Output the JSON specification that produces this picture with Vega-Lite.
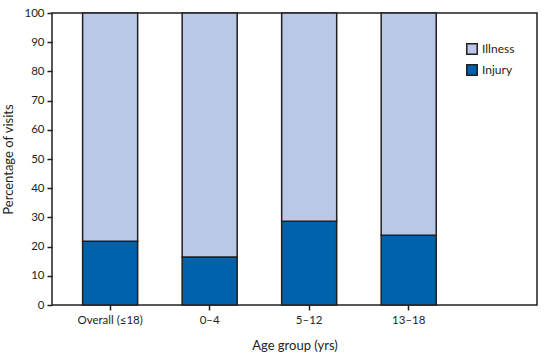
{
  "$schema": "https://vega.github.io/schema/vega-lite/v6.json",
  "width": 485,
  "height": 292,
  "autosize": {"type": "none"},
  "padding": {"left": 52, "top": 13, "right": 9, "bottom": 54},
  "background": "white",
  "config": {
    "font": "Lato",
    "view": {"stroke": "#231f20", "strokeWidth": 1.5},
    "axis": {
      "labelFont": "Lato",
      "titleFont": "Lato",
      "labelFontSize": 11.5,
      "titleFontSize": 13,
      "titleFontWeight": "normal",
      "labelColor": "#231f20",
      "titleColor": "#231f20",
      "tickColor": "#231f20",
      "domainColor": "#231f20",
      "tickWidth": 1.5,
      "domainWidth": 1.5,
      "grid": false
    }
  },
  "data": {
    "values": [
      {"group": "Overall (≤18)", "type": "Injury", "pct": 21.8},
      {"group": "Overall (≤18)", "type": "Illness", "pct": 78.2},
      {"group": "0–4", "type": "Injury", "pct": 16.4},
      {"group": "0–4", "type": "Illness", "pct": 83.6},
      {"group": "5–12", "type": "Injury", "pct": 28.7},
      {"group": "5–12", "type": "Illness", "pct": 71.3},
      {"group": "13–18", "type": "Injury", "pct": 23.9},
      {"group": "13–18", "type": "Illness", "pct": 76.1}
    ]
  },
  "mark": {"type": "bar", "stroke": "#231f20", "strokeWidth": 1.5},
  "encoding": {
    "x": {
      "field": "group",
      "type": "nominal",
      "sort": ["Overall (≤18)", "0–4", "5–12", "13–18"],
      "scale": {"paddingInner": 0.447, "paddingOuter": 0.66, "align": 0.233},
      "axis": {"labelAngle": 0, "title": "Age group (yrs)", "tickSize": 5, "labelPadding": 4, "titlePadding": 14, "domain": false}
    },
    "y": {
      "field": "pct",
      "type": "quantitative",
      "stack": "zero",
      "scale": {"domain": [0, 100]},
      "axis": {"values": [0, 10, 20, 30, 40, 50, 60, 70, 80, 90, 100], "title": "Percentage of visits", "tickSize": 5, "labelPadding": 3, "titlePadding": 8, "domain": false}
    },
    "color": {
      "field": "type",
      "type": "nominal",
      "scale": {"domain": ["Illness", "Injury"], "range": ["#b8c8e6", "#0062ab"]},
      "legend": {
        "title": null,
        "orient": "none",
        "legendX": 414,
        "legendY": 30,
        "symbolType": "square",
        "symbolSize": 110,
        "symbolStrokeColor": "#231f20",
        "symbolStrokeWidth": 1.5,
        "symbolOpacity": 1,
        "labelFontSize": 12,
        "labelFont": "Lato",
        "labelColor": "#231f20",
        "rowPadding": 3
      }
    },
    "order": {"field": "type", "sort": "descending"}
  }
}
